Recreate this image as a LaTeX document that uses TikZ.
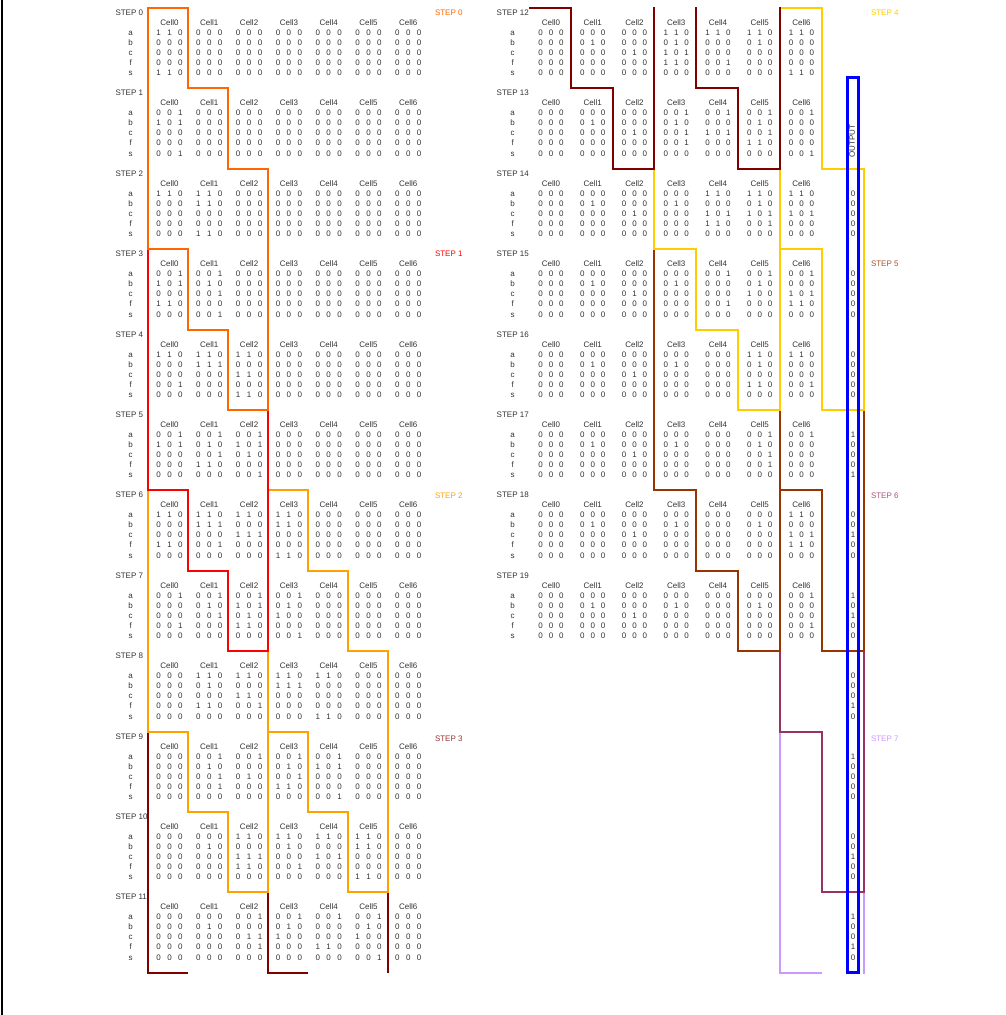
\documentclass[tikz,border=0pt]{standalone}
\usepackage{fontspec}
\setmainfont{Liberation Sans}
\definecolor{pzero}{HTML}{FF6600}
\definecolor{pone}{HTML}{FF0000}
\definecolor{ptwo}{HTML}{FFA200}
\definecolor{pthree}{HTML}{800000}
\definecolor{pfour}{HTML}{FFCC00}
\definecolor{pfive}{HTML}{993300}
\definecolor{psix}{HTML}{993366}
\definecolor{pseven}{HTML}{CC99FF}
\definecolor{txtgray}{HTML}{333333}
\definecolor{outblue}{HTML}{0000FF}
\tikzset{
  txtnode/.style={inner sep=0pt, outer sep=0pt, text=txtgray, font=\fontsize{8}{9.6}\selectfont, anchor=base},
  phaseline/.style={line width=2pt, line join=miter},
}
\newcommand\splittri[3]{\def\dA{#1}\def\dB{#2}\def\dC{#3}}
\newcommand\putrow[3]{%
  \edef\tmp{#3}\expandafter\splittri\tmp
  \node[txtnode] (d\stk-\cj-#1-0) at (\cx-\dsp,\by+#2+2.9) {\dA};
  \node[txtnode] (d\stk-\cj-#1-1) at (\cx,\by+#2+2.9) {\dB};
  \node[txtnode] (d\stk-\cj-#1-2) at (\cx+\dsp,\by+#2+2.9) {\dC};
}
\newcommand\drawstep[2]{%
  \def\stk{#1}%
  \ifnum#1>11 %
    \def\lx{496.7}\def\rx{512.7}\def\cxo{551}\def\cp{41.75}\def\dsp{10.4}%
    \pgfmathsetmacro\by{8+80.4*(#1-12)}%
  \else
    \def\lx{115.5}\def\rx{130.7}\def\cxo{169.5}\def\cp{39.8}\def\dsp{10.9}%
    \pgfmathsetmacro\by{8+80.4*#1}%
  \fi
  \node[txtnode, anchor=base west] (st#1) at (\lx,\by+4.5+2.9) {STEP #1};
  \foreach \rn/\ry in {a/24.5,b/34.5,c/44.5,f/54.5,s/65} {
    \node[txtnode] (rl#1-\rn) at (\rx,\by+\ry+2.9) {\rn};
  }
  \foreach \va/\vb/\vc/\vf/\vs [count=\cj from 0] in {#2} {
    \pgfmathsetmacro\cx{\cxo+\cp*\cj}
    \node[txtnode] (h#1-\cj) at (\cx,\by+14.5+2.9) {Cell\cj};
    \putrow{a}{24.5}{\va}
    \putrow{b}{34.5}{\vb}
    \putrow{c}{44.5}{\vc}
    \putrow{f}{54.5}{\vf}
    \putrow{s}{65}{\vs}
  }
}
\begin{document}
\begin{tikzpicture}[x=1pt,y=-1pt]
\useasboundingbox (0,0) rectangle (1006,1015);
\fill[white] (0,0) rectangle (1006,1015);
\draw[black, line width=2pt] (1.5,0) -- (1.5,1015);

% phase 7
\draw[phaseline, pseven] (821.6,972.8) -- (779.8,972.8) -- (779.8,731.6) -- (821.6,731.6) -- (821.6,892.4) -- (863.6,892.4) -- (863.6,974);
% phase 6
\draw[phaseline, psix] (779.8,490.4) -- (821.6,490.4) -- (821.6,651.2) -- (863.6,651.2) -- (863.6,892.4) -- (821.6,892.4) -- (821.6,731.6) -- (779.8,731.6) -- cycle;
% phase 5
\draw[phaseline, pfive] (654.4,249.2) -- (696.2,249.2) -- (696.2,329.6) -- (738,329.6) -- (738,410) -- (779.8,410) -- (779.8,651.2) -- (738,651.2) -- (738,570.8) -- (696.2,570.8) -- (696.2,490.4) -- (654.4,490.4) -- cycle;
\draw[phaseline, pfive] (779.8,249.2) -- (821.6,249.2) -- (821.6,410) -- (863.6,410) -- (863.6,651.2) -- (821.6,651.2) -- (821.6,490.4) -- (779.8,490.4) -- cycle;
% phase 4
\draw[phaseline, pfour] (696.2,8) -- (696.2,88.4) -- (738,88.4) -- (738,168.8) -- (779.8,168.8) -- (779.8,410) -- (738,410) -- (738,329.6) -- (696.2,329.6) -- (696.2,249.2) -- (654.4,249.2) -- (654.4,8);
\draw[phaseline, pfour] (779.8,8) -- (821.6,8) -- (821.6,168.8) -- (863.6,168.8) -- (863.6,410) -- (821.6,410) -- (821.6,249.2) -- (779.8,249.2) -- cycle;
% phase 3
\draw[phaseline, pthree] (188,972.8) -- (148,972.8) -- (148,731.6) -- (188,731.6) -- (188,812) -- (228,812) -- (228,892.4) -- (268,892.4) -- (268,972.8) -- (308,972.8);
\draw[phaseline, pthree] (268,972.8) -- (268,731.6) -- (308,731.6) -- (308,812) -- (348,812) -- (348,892.4) -- (388,892.4) -- (388,972.8);
\draw[phaseline, pthree] (529,8) -- (570.8,8) -- (570.8,88.4) -- (612.6,88.4) -- (612.6,168.8) -- (654.4,168.8) -- (654.4,7);
\draw[phaseline, pthree] (696.2,7) -- (696.2,88.4) -- (738,88.4) -- (738,168.8) -- (779.8,168.8) -- (779.8,7);
% phase 2
\draw[phaseline, ptwo] (148,490.4) -- (188,490.4) -- (188,570.8) -- (228,570.8) -- (228,651.2) -- (268,651.2) -- (268,892.4) -- (228,892.4) -- (228,812) -- (188,812) -- (188,731.6) -- (148,731.6) -- cycle;
\draw[phaseline, ptwo] (268,490.4) -- (308,490.4) -- (308,570.8) -- (348,570.8) -- (348,651.2) -- (388,651.2) -- (388,892.4) -- (348,892.4) -- (348,812) -- (308,812) -- (308,731.6) -- (268,731.6) -- cycle;
% phase 1
\draw[phaseline, pone] (148,249.2) -- (188,249.2) -- (188,329.6) -- (228,329.6) -- (228,410) -- (268,410) -- (268,651.2) -- (228,651.2) -- (228,570.8) -- (188,570.8) -- (188,490.4) -- (148,490.4) -- cycle;
% phase 0
\draw[phaseline, pzero] (148,8) -- (188,8) -- (188,88.4) -- (228,88.4) -- (228,168.8) -- (268,168.8) -- (268,410) -- (228,410) -- (228,329.6) -- (188,329.6) -- (188,249.2) -- (148,249.2) -- cycle;

% output box
\draw[outblue, line width=2.8pt] (847.8,77.8) rectangle (858.4,972.8);
\node[txtnode, anchor=center, rotate=90] (outlbl) at (852.2,141) {OUTPUT};
\foreach \ok/\oa/\ob/\oc/\of/\os in {14/0/0/0/0/0,15/0/0/0/0/0,16/0/0/0/0/0,17/1/0/0/0/1,18/0/0/1/0/0,19/1/0/1/0/0,20/0/0/0/1/0,21/1/0/0/0/0,22/0/0/1/0/0,23/1/0/0/1/0} {
  \pgfmathsetmacro\oy{8+80.4*(\ok-12)}
  \node[txtnode] (o\ok-a) at (853,\oy+24.5+2.9) {\oa};
  \node[txtnode] (o\ok-b) at (853,\oy+34.5+2.9) {\ob};
  \node[txtnode] (o\ok-c) at (853,\oy+44.5+2.9) {\oc};
  \node[txtnode] (o\ok-f) at (853,\oy+54.5+2.9) {\of};
  \node[txtnode] (o\ok-s) at (853,\oy+65+2.9) {\os};
}

% phase labels
\node[txtnode, anchor=base west, text=pzero] (ph0) at (435,12.5+2.9) {STEP 0};
\node[txtnode, anchor=base west, text=pone] (ph1) at (435,254+2.9) {STEP 1};
\node[txtnode, anchor=base west, text=ptwo] (ph2) at (435,496+2.9) {STEP 2};
\node[txtnode, anchor=base west, text=pthree!80!white] (ph3) at (435,738.3+2.9) {STEP 3};
\node[txtnode, anchor=base west, text=pfour] (ph4) at (871,12.5+2.9) {STEP 4};
\node[txtnode, anchor=base west, text=pfive!85!white] (ph5) at (871,264+2.9) {STEP 5};
\node[txtnode, anchor=base west, text=psix!85!white] (ph6) at (871,496+2.9) {STEP 6};
\node[txtnode, anchor=base west, text=pseven] (ph7) at (871,738.3+2.9) {STEP 7};

% steps
\drawstep{0}{110/000/000/000/110, 000/000/000/000/000, 000/000/000/000/000, 000/000/000/000/000, 000/000/000/000/000, 000/000/000/000/000, 000/000/000/000/000}
\drawstep{1}{001/101/000/000/001, 000/000/000/000/000, 000/000/000/000/000, 000/000/000/000/000, 000/000/000/000/000, 000/000/000/000/000, 000/000/000/000/000}
\drawstep{2}{110/000/000/000/000, 110/110/000/000/110, 000/000/000/000/000, 000/000/000/000/000, 000/000/000/000/000, 000/000/000/000/000, 000/000/000/000/000}
\drawstep{3}{001/101/000/110/000, 001/010/001/000/001, 000/000/000/000/000, 000/000/000/000/000, 000/000/000/000/000, 000/000/000/000/000, 000/000/000/000/000}
\drawstep{4}{110/000/000/001/000, 110/111/000/000/000, 110/000/110/000/110, 000/000/000/000/000, 000/000/000/000/000, 000/000/000/000/000, 000/000/000/000/000}
\drawstep{5}{001/101/000/000/000, 001/010/001/110/000, 001/101/010/000/001, 000/000/000/000/000, 000/000/000/000/000, 000/000/000/000/000, 000/000/000/000/000}
\drawstep{6}{110/000/000/110/000, 110/111/000/001/000, 110/000/111/000/000, 110/110/000/000/110, 000/000/000/000/000, 000/000/000/000/000, 000/000/000/000/000}
\drawstep{7}{001/000/000/001/000, 001/010/001/000/000, 001/101/010/110/000, 001/010/100/000/001, 000/000/000/000/000, 000/000/000/000/000, 000/000/000/000/000}
\drawstep{8}{000/000/000/000/000, 110/010/000/110/000, 110/000/110/001/000, 110/111/000/000/000, 110/000/000/000/110, 000/000/000/000/000, 000/000/000/000/000}
\drawstep{9}{000/000/000/000/000, 001/010/001/001/000, 001/000/010/000/000, 001/010/001/110/000, 001/101/000/000/001, 000/000/000/000/000, 000/000/000/000/000}
\drawstep{10}{000/000/000/000/000, 000/010/000/000/000, 110/000/111/110/000, 110/010/000/001/000, 110/000/101/000/000, 110/110/000/000/110, 000/000/000/000/000}
\drawstep{11}{000/000/000/000/000, 000/010/000/000/000, 001/000/011/001/000, 001/010/100/000/000, 001/000/000/110/000, 001/010/100/000/001, 000/000/000/000/000}
\drawstep{12}{000/000/000/000/000, 000/010/000/000/000, 000/000/010/000/000, 110/010/101/110/000, 110/000/000/001/000, 110/010/000/000/000, 110/000/000/000/110}
\drawstep{13}{000/000/000/000/000, 000/010/000/000/000, 000/000/010/000/000, 001/010/001/001/000, 001/000/101/000/000, 001/010/001/110/000, 001/000/000/000/001}
\drawstep{14}{000/000/000/000/000, 000/010/000/000/000, 000/000/010/000/000, 000/010/000/000/000, 110/000/101/110/000, 110/010/101/001/000, 110/000/101/000/000}
\drawstep{15}{000/000/000/000/000, 000/010/000/000/000, 000/000/010/000/000, 000/010/000/000/000, 001/000/000/001/000, 001/010/100/000/000, 001/000/101/110/000}
\drawstep{16}{000/000/000/000/000, 000/010/000/000/000, 000/000/010/000/000, 000/010/000/000/000, 000/000/000/000/000, 110/010/000/110/000, 110/000/000/001/000}
\drawstep{17}{000/000/000/000/000, 000/010/000/000/000, 000/000/010/000/000, 000/010/000/000/000, 000/000/000/000/000, 001/010/001/001/000, 001/000/000/000/000}
\drawstep{18}{000/000/000/000/000, 000/010/000/000/000, 000/000/010/000/000, 000/010/000/000/000, 000/000/000/000/000, 000/010/000/000/000, 110/000/101/110/000}
\drawstep{19}{000/000/000/000/000, 000/010/000/000/000, 000/000/010/000/000, 000/010/000/000/000, 000/000/000/000/000, 000/010/000/000/000, 001/000/000/001/000}
\end{tikzpicture}
\end{document}
